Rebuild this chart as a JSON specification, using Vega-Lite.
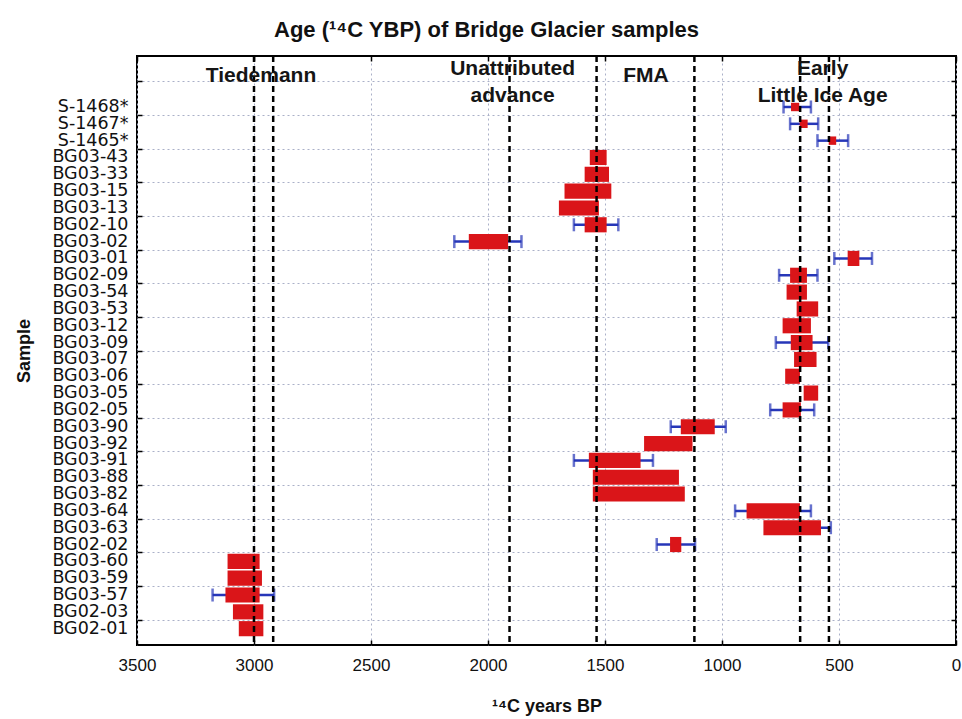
{
  "$schema": "https://vega.github.io/schema/vega-lite/v6.json",
  "width": 819,
  "height": 589,
  "autosize": {"type": "none"},
  "padding": {"left": 137, "top": 56, "right": 6, "bottom": 74},
  "title": {"text": "Age (¹⁴C YBP) of Bridge Glacier samples", "font": "Liberation Sans", "fontSize": 22, "fontWeight": "bold", "color": "#111", "anchor": "middle", "dx": -60, "offset": 13},
  "config": {
    "view": {"stroke": "black", "strokeWidth": 2},
    "font": "Liberation Sans",
    "axis": {"domain": false, "labelOverlap": false, "labelBound": false}
  },
  "datasets": {
    "samples": [
      {"sample": "S-1468*", "lo": 705, "hi": 670, "elo": 737, "ehi": 620},
      {"sample": "S-1467*", "lo": 668, "hi": 634, "elo": 709, "ehi": 589},
      {"sample": "S-1465*", "lo": 544, "hi": 512, "elo": 592, "ehi": 461},
      {"sample": "BG03-43", "lo": 1565, "hi": 1493, "elo": null, "ehi": null},
      {"sample": "BG03-33", "lo": 1587, "hi": 1483, "elo": null, "ehi": null},
      {"sample": "BG03-15", "lo": 1673, "hi": 1473, "elo": null, "ehi": null},
      {"sample": "BG03-13", "lo": 1697, "hi": 1526, "elo": null, "ehi": null},
      {"sample": "BG02-10", "lo": 1587, "hi": 1493, "elo": 1633, "ehi": 1443},
      {"sample": "BG03-02", "lo": 2082, "hi": 1914, "elo": 2144, "ehi": 1857},
      {"sample": "BG03-01", "lo": 463, "hi": 413, "elo": 520, "ehi": 359},
      {"sample": "BG02-09", "lo": 709, "hi": 637, "elo": 756, "ehi": 592},
      {"sample": "BG03-54", "lo": 724, "hi": 637, "elo": null, "ehi": null},
      {"sample": "BG03-53", "lo": 681, "hi": 589, "elo": null, "ehi": null},
      {"sample": "BG03-12", "lo": 741, "hi": 620, "elo": null, "ehi": null},
      {"sample": "BG03-09", "lo": 706, "hi": 613, "elo": 770, "ehi": 546},
      {"sample": "BG03-07", "lo": 692, "hi": 596, "elo": null, "ehi": null},
      {"sample": "BG03-06", "lo": 730, "hi": 667, "elo": null, "ehi": null},
      {"sample": "BG03-05", "lo": 651, "hi": 589, "elo": null, "ehi": null},
      {"sample": "BG02-05", "lo": 741, "hi": 663, "elo": 794, "ehi": 606},
      {"sample": "BG03-90", "lo": 1176, "hi": 1031, "elo": 1219, "ehi": 984},
      {"sample": "BG03-92", "lo": 1333, "hi": 1126, "elo": null, "ehi": null},
      {"sample": "BG03-91", "lo": 1569, "hi": 1348, "elo": 1633, "ehi": 1295},
      {"sample": "BG03-88", "lo": 1552, "hi": 1184, "elo": null, "ehi": null},
      {"sample": "BG03-82", "lo": 1552, "hi": 1159, "elo": null, "ehi": null},
      {"sample": "BG03-64", "lo": 895, "hi": 667, "elo": 944, "ehi": 620},
      {"sample": "BG03-63", "lo": 823, "hi": 577, "elo": 780, "ehi": 535},
      {"sample": "BG02-02", "lo": 1222, "hi": 1174, "elo": 1279, "ehi": 1115},
      {"sample": "BG03-60", "lo": 3113, "hi": 2976, "elo": null, "ehi": null},
      {"sample": "BG03-59", "lo": 3113, "hi": 2966, "elo": null, "ehi": null},
      {"sample": "BG03-57", "lo": 3122, "hi": 2976, "elo": 3177, "ehi": 2914},
      {"sample": "BG02-03", "lo": 3090, "hi": 2960, "elo": null, "ehi": null},
      {"sample": "BG02-01", "lo": 3065, "hi": 2960, "elo": null, "ehi": null}
    ],
    "boundaries": [
      {"year": 3000}, {"year": 2918}, {"year": 1908}, {"year": 1536}, {"year": 1118}, {"year": 666}, {"year": 543}
    ],
    "periods1": [
      {"sample": "_a", "year": 2970, "label": "Tiedemann"},
      {"sample": "_a", "year": 1325, "label": "FMA"}
    ],
    "periods2": [
      {"sample": "_a", "year": 1895, "label": ["Unattributed", "advance"]},
      {"sample": "_a", "year": 570, "label": ["Early", "Little Ice Age"]}
    ]
  },
  "resolve": {"axis": {"x": "independent", "y": "independent"}},
  "layer": [
    {
      "data": {"name": "samples"},
      "transform": [{"filter": "datum.elo != null"}],
      "mark": {"type": "rule", "color": "#2636b8", "strokeWidth": 2.5},
      "encoding": {
        "x": {"field": "elo", "type": "quantitative", "scale": {"domain": [0, 3500], "reverse": true, "nice": false, "zero": false},
          "axis": {"orient": "top", "values": [0, 500, 1000, 1500, 2000, 2500, 3000, 3500], "labels": false, "grid": false, "title": null, "ticks": true, "tickSize": -5, "tickColor": "black", "tickWidth": 1.5}},
        "x2": {"field": "ehi"},
        "y": {"field": "sample", "type": "nominal",
          "scale": {"domain": ["_a","_b","S-1468*","S-1467*","S-1465*","BG03-43","BG03-33","BG03-15","BG03-13","BG02-10","BG03-02","BG03-01","BG02-09","BG03-54","BG03-53","BG03-12","BG03-09","BG03-07","BG03-06","BG03-05","BG02-05","BG03-90","BG03-92","BG03-91","BG03-88","BG03-82","BG03-64","BG03-63","BG02-02","BG03-60","BG03-59","BG03-57","BG02-03","BG02-01"], "paddingInner": 0, "paddingOuter": 0.5, "align": 0.53, "round": false},
          "axis": {"orient": "right", "values": ["BG02-01","BG03-57","BG03-60","BG03-63","BG03-82","BG03-91","BG03-90","BG03-05","BG03-07","BG03-12","BG03-54","BG03-01","BG02-10","BG03-15","BG03-43","S-1467*","_b"], "bandPosition": 0, "labels": false, "title": null, "grid": true, "gridColor": "#aab0c8", "gridDash": [2, 3], "gridWidth": 1, "ticks": true, "tickSize": -5, "tickColor": "black", "tickWidth": 1.5}}
      }
    },
    {
      "data": {"name": "samples"},
      "transform": [{"fold": ["elo", "ehi"], "as": ["end", "value"]}, {"filter": "datum.value != null"}],
      "mark": {"type": "tick", "color": "#2636b8", "thickness": 2.5, "size": 13},
      "encoding": {
        "x": {"field": "value", "type": "quantitative", "scale": {"domain": [0, 3500], "reverse": true, "nice": false, "zero": false}, "axis": null},
        "y": {"field": "sample", "type": "nominal",
          "scale": {"domain": ["_a","_b","S-1468*","S-1467*","S-1465*","BG03-43","BG03-33","BG03-15","BG03-13","BG02-10","BG03-02","BG03-01","BG02-09","BG03-54","BG03-53","BG03-12","BG03-09","BG03-07","BG03-06","BG03-05","BG02-05","BG03-90","BG03-92","BG03-91","BG03-88","BG03-82","BG03-64","BG03-63","BG02-02","BG03-60","BG03-59","BG03-57","BG02-03","BG02-01"], "paddingInner": 0, "paddingOuter": 0.5, "align": 0.53, "round": false},
          "axis": {"orient": "left", "values": ["BG02-01","BG03-57","BG03-60","BG03-63","BG03-82","BG03-91","BG03-90","BG03-05","BG03-07","BG03-12","BG03-54","BG03-01","BG02-10","BG03-15","BG03-43","S-1467*","_b"], "bandPosition": 0, "labels": false, "title": null, "grid": false, "ticks": true, "tickSize": -5, "tickColor": "black", "tickWidth": 1.5}}
      }
    },
    {
      "data": {"name": "samples"},
      "transform": [{"filter": "indexof(datum.sample, 'S-') != 0"}],
      "mark": {"type": "bar", "color": "#da1519", "height": {"band": 0.9}},
      "encoding": {
        "x": {"field": "lo", "type": "quantitative", "scale": {"domain": [0, 3500], "reverse": true, "nice": false, "zero": false},
          "axis": {"orient": "bottom", "values": [0, 500, 1000, 1500, 2000, 2500, 3000, 3500], "format": "d", "labelFlush": false, "grid": true, "gridColor": "#aab0c8", "gridDash": [2, 3], "gridWidth": 1, "ticks": true, "tickSize": -5, "tickColor": "black", "tickWidth": 1.5, "labelFont": "Liberation Sans", "labelFontSize": 17, "labelColor": "#111", "labelPadding": 17, "title": "¹⁴C years BP", "titleFont": "Liberation Sans", "titleFontSize": 18, "titleFontWeight": "bold", "titleColor": "#111", "titlePadding": 24}},
        "x2": {"field": "hi"},
        "y": {"field": "sample", "type": "nominal",
          "scale": {"domain": ["_a","_b","S-1468*","S-1467*","S-1465*","BG03-43","BG03-33","BG03-15","BG03-13","BG02-10","BG03-02","BG03-01","BG02-09","BG03-54","BG03-53","BG03-12","BG03-09","BG03-07","BG03-06","BG03-05","BG02-05","BG03-90","BG03-92","BG03-91","BG03-88","BG03-82","BG03-64","BG03-63","BG02-02","BG03-60","BG03-59","BG03-57","BG02-03","BG02-01"], "paddingInner": 0, "paddingOuter": 0.5, "align": 0.53, "round": false},
          "axis": {"orient": "left", "values": ["S-1468*","S-1467*","S-1465*","BG03-43","BG03-33","BG03-15","BG03-13","BG02-10","BG03-02","BG03-01","BG02-09","BG03-54","BG03-53","BG03-12","BG03-09","BG03-07","BG03-06","BG03-05","BG02-05","BG03-90","BG03-92","BG03-91","BG03-88","BG03-82","BG03-64","BG03-63","BG02-02","BG03-60","BG03-59","BG03-57","BG02-03","BG02-01"], "ticks": false, "grid": false, "labelFont": "DejaVu Sans", "labelFontSize": 17.5, "labelColor": "#111", "labelPadding": 9, "title": "Sample", "titleFont": "Liberation Sans", "titleFontSize": 18, "titleFontWeight": "bold", "titleColor": "#111", "titlePadding": 18}}
      }
    },
    {
      "data": {"name": "samples"},
      "transform": [{"filter": "indexof(datum.sample, 'S-') == 0"}],
      "mark": {"type": "bar", "color": "#da1519", "height": {"band": 0.5}},
      "encoding": {
        "x": {"field": "lo", "type": "quantitative", "scale": {"domain": [0, 3500], "reverse": true, "nice": false, "zero": false}, "axis": null},
        "x2": {"field": "hi"},
        "y": {"field": "sample", "type": "nominal",
          "scale": {"domain": ["_a","_b","S-1468*","S-1467*","S-1465*","BG03-43","BG03-33","BG03-15","BG03-13","BG02-10","BG03-02","BG03-01","BG02-09","BG03-54","BG03-53","BG03-12","BG03-09","BG03-07","BG03-06","BG03-05","BG02-05","BG03-90","BG03-92","BG03-91","BG03-88","BG03-82","BG03-64","BG03-63","BG02-02","BG03-60","BG03-59","BG03-57","BG02-03","BG02-01"], "paddingInner": 0, "paddingOuter": 0.5, "align": 0.53, "round": false},
          "axis": null}
      }
    },
    {
      "data": {"name": "boundaries"},
      "mark": {"type": "rule", "color": "black", "strokeWidth": 2.5, "strokeDash": [6, 4]},
      "encoding": {
        "x": {"field": "year", "type": "quantitative", "scale": {"domain": [0, 3500], "reverse": true, "nice": false, "zero": false}, "axis": null}
      }
    },
    {
      "data": {"name": "periods1"},
      "mark": {"type": "text", "font": "Liberation Sans", "fontSize": 21, "fontWeight": "bold", "color": "#151515", "align": "center", "baseline": "alphabetic"},
      "encoding": {
        "x": {"field": "year", "type": "quantitative", "scale": {"domain": [0, 3500], "reverse": true, "nice": false, "zero": false}, "axis": null},
        "y": {"field": "sample", "type": "nominal", "bandPosition": 1,
          "scale": {"domain": ["_a","_b","S-1468*","S-1467*","S-1465*","BG03-43","BG03-33","BG03-15","BG03-13","BG02-10","BG03-02","BG03-01","BG02-09","BG03-54","BG03-53","BG03-12","BG03-09","BG03-07","BG03-06","BG03-05","BG02-05","BG03-90","BG03-92","BG03-91","BG03-88","BG03-82","BG03-64","BG03-63","BG02-02","BG03-60","BG03-59","BG03-57","BG02-03","BG02-01"], "paddingInner": 0, "paddingOuter": 0.5, "align": 0.53, "round": false},
          "axis": null},
        "text": {"field": "label"}
      }
    },
    {
      "data": {"name": "periods2"},
      "mark": {"type": "text", "font": "Liberation Sans", "fontSize": 21, "fontWeight": "bold", "color": "#151515", "align": "center", "baseline": "alphabetic", "lineHeight": 27},
      "encoding": {
        "x": {"field": "year", "type": "quantitative", "scale": {"domain": [0, 3500], "reverse": true, "nice": false, "zero": false}, "axis": null},
        "y": {"field": "sample", "type": "nominal", "bandPosition": 0.6,
          "scale": {"domain": ["_a","_b","S-1468*","S-1467*","S-1465*","BG03-43","BG03-33","BG03-15","BG03-13","BG02-10","BG03-02","BG03-01","BG02-09","BG03-54","BG03-53","BG03-12","BG03-09","BG03-07","BG03-06","BG03-05","BG02-05","BG03-90","BG03-92","BG03-91","BG03-88","BG03-82","BG03-64","BG03-63","BG02-02","BG03-60","BG03-59","BG03-57","BG02-03","BG02-01"], "paddingInner": 0, "paddingOuter": 0.5, "align": 0.53, "round": false},
          "axis": null},
        "text": {"field": "label"}
      }
    }
  ]
}
